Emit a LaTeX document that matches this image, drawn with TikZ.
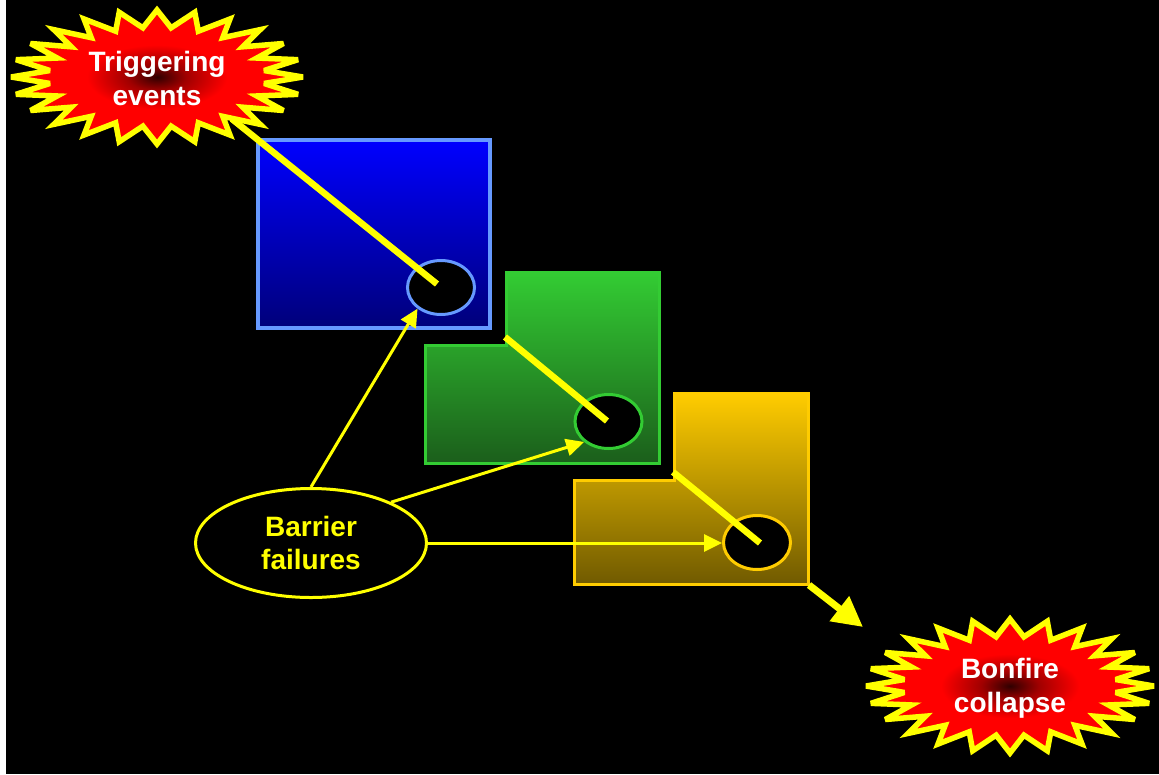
\documentclass[tikz,border=0pt]{standalone}
\usepackage{fontspec}
\setmainfont{Liberation Sans}
\usetikzlibrary{shapes.geometric,arrows.meta}
\definecolor{bluetop}{HTML}{0000FF}
\definecolor{bluebot}{HTML}{00007A}
\definecolor{blueline}{HTML}{6699FF}
\definecolor{greentop}{HTML}{33CC33}
\definecolor{greenbot}{HTML}{1B5E1B}
\definecolor{goldtop}{HTML}{FFCC00}
\definecolor{goldbot}{HTML}{705A00}
\definecolor{ylw}{HTML}{FFFF00}
\definecolor{burstc}{HTML}{300000}
\definecolor{burstm}{HTML}{A00000}
\definecolor{burstr}{HTML}{FF0000}
\pgfdeclareradialshading{burstshade}{\pgfpoint{0bp}{0bp}}{color(0bp)=(burstc); color(5bp)=(burstm); color(12bp)=(burstr); color(25bp)=(burstr); color(50bp)=(burstr)}
\tikzset{
  burst/.style={shading=burstshade, draw=ylw, line width=5.5pt, line join=miter, miter limit=4},
  bursttext/.style={text=white, font=\fontsize{28}{34}\selectfont\bfseries, align=center, inner sep=0pt},
  hole/.style={ellipse, fill=black, line width=3pt, inner sep=0pt, minimum width=67pt, minimum height=54pt},
  thickline/.style={draw=ylw, line width=6.5pt},
  thinarrow/.style={draw=ylw, line width=3pt, -{Triangle[length=18pt,width=17pt]}},
  bigarrow/.style={draw=ylw, line width=7pt, -{Triangle[length=30pt,width=30pt]}},
}
\begin{document}
\begin{tikzpicture}[x=1pt,y=-1pt]
\useasboundingbox (0,0) rectangle (1159,774);
\fill[white] (0,0) rectangle (6,774);
\fill[black] (6,0) rectangle (1159,774);

% blue block
\shade[top color=bluetop, bottom color=bluebot] (258,140) rectangle (490,328);
\draw[blueline, line width=4pt] (258,140) rectangle (490,328);
% green block
\shade[top color=greentop, bottom color=greenbot] (506.5,272.5) -- (659.5,272.5) -- (659.5,463.5) -- (425.5,463.5) -- (425.5,345.5) -- (506.5,345.5) -- cycle;
\draw[greentop, line width=3pt] (506.5,272.5) -- (659.5,272.5) -- (659.5,463.5) -- (425.5,463.5) -- (425.5,345.5) -- (506.5,345.5) -- cycle;
% gold block
\shade[top color=goldtop, bottom color=goldbot] (674.5,393.5) -- (808.5,393.5) -- (808.5,584.5) -- (574.5,584.5) -- (574.5,480.5) -- (674.5,480.5) -- cycle;
\draw[goldtop, line width=3pt] (674.5,393.5) -- (808.5,393.5) -- (808.5,584.5) -- (574.5,584.5) -- (574.5,480.5) -- (674.5,480.5) -- cycle;

% holes
\node[hole, draw=blueline] (be) at (441,287.5) {};
\node[hole, draw=greentop] (ge) at (608.5,421.5) {};
\node[hole, draw=goldtop] (ye) at (757,542.5) {};

% bursts
\shadedraw[burst] plot[samples at={0,1,...,47}, variable=\t]
  ({157+146*(1-0.26*mod(\t,2))*cos(90+\t*7.5)}, {77+67*(1-0.26*mod(\t,2))*sin(90+\t*7.5)}) -- cycle;
\node[bursttext] (trig) at (157,78) {Triggering\\events};
\shadedraw[burst] plot[samples at={0,1,...,47}, variable=\t]
  ({1010+144*(1-0.26*mod(\t,2))*cos(90+\t*7.5)}, {686+67*(1-0.26*mod(\t,2))*sin(90+\t*7.5)}) -- cycle;
\node[bursttext] (bonf) at (1010,688) {Bonfire\\collapse};

% thick yellow lines
\coordinate (t1) at (232,119);
\coordinate (t1e) at (437,284);
\coordinate (t2) at (505,337);
\coordinate (t2e) at (607,421);
\coordinate (t3) at (673,472);
\coordinate (t3e) at (760,543);
\coordinate (t4) at (809,585);
\coordinate (t4e) at (863,627);
\draw[thickline] (t1) -- (t1e);
\draw[thickline] (t2) -- (t2e);
\draw[thickline] (t3) -- (t3e);
\draw[bigarrow] (t4) -- (t4e);

% barrier failures
\node[ellipse, draw=ylw, fill=black, line width=3pt, minimum width=231pt, minimum height=109pt, inner sep=0pt,
  text=ylw, font=\fontsize{28}{33}\selectfont\bfseries, align=center] (bf) at (311,543) {Barrier\\failures};
\draw[thinarrow] (bf.north) -- (be.222);
\draw[thinarrow] (bf.27) -- (ge.220);
\draw[thinarrow] (bf.east) -- (bf.east -| ye.west);
\end{tikzpicture}
\end{document}
